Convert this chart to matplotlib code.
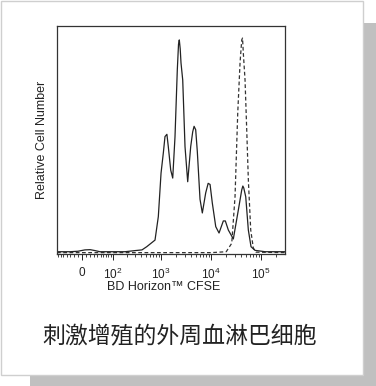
import matplotlib
matplotlib.use('Agg')
import matplotlib.pyplot as plt
from matplotlib.patches import Rectangle
from matplotlib.ticker import FixedLocator, FixedFormatter

plt.rcParams['font.family'] = ['Liberation Sans', 'DejaVu Sans']
plt.rcParams['mathtext.default'] = 'regular'

# stimulated cells (solid), CFSE intensity vs relative count (% of axis height)
stim_x = [-74, -30, -10, 7, 20, 33, 48, 87, 185, 300, 411, 512, 751, 875,
          992, 1102, 1190, 1300, 1386, 1550, 1700, 1888, 2099, 2220, 2302,
          2400, 2490, 2695, 2995, 3390, 3893, 4270, 4550, 4900, 5277, 5980,
          6650, 7770, 8700, 9500, 10530, 12340, 14360, 17500, 19200, 22050,
          27750, 34950, 40870, 43000, 44830, 49140, 55420, 62700, 75400,
          120000, 300000]
stim_y = [1.0, 1.0, 1.2, 1.8, 1.9, 1.5, 1.0, 1.0, 1.0, 1.5, 1.8, 3.2, 6.1,
          16.4, 35.5, 44.3, 51.5, 52.5, 47.1, 36.8, 33.3, 51.4, 80.7, 92.0,
          93.9, 90.0, 83.8, 76.3, 47.1, 31.7, 47.1, 53.6, 56.0, 54.5, 45.0,
          24.0, 18.0, 26.8, 31.0, 30.5, 22.4, 12.0, 9.2, 14.5, 14.5, 10.5,
          6.6, 19.3, 28.1, 29.8, 29.0, 25.1, 10.5, 3.2, 1.6, 1.0, 1.0]

# unstimulated control (dashed)
ctrl_x = [-74, 100, 1000, 10000, 20000, 25790, 30000, 33990, 37800, 40870,
          42400, 44000, 47600, 51440, 55420, 61840, 69700, 78900, 300000]
ctrl_y = [0.6, 0.6, 0.6, 0.6, 1.0, 4.7, 25.1, 61.8, 83.8, 93.9, 94.7, 88.0,
          76.3, 54.4, 32.5, 10.5, 2.6, 0.8, 0.6]

major_ticks = [0, 100, 1000, 10000, 100000]
major_labels = ['0', '10$^{2}$', '10$^{3}$', '10$^{4}$', '10$^{5}$']
minor_ticks = ([-70, -60, -50, -40, -30, -20, -10]
               + [m * 10 for m in range(1, 10)]
               + [m * 100 for m in range(2, 10)]
               + [m * 1000 for m in range(2, 10)]
               + [m * 10000 for m in range(2, 10)]
               + [200000])

fig = plt.figure(figsize=(3.76, 3.86), dpi=100)
fig.patch.set_facecolor('white')

# drop shadow + white panel
fig.patches.append(Rectangle((30 / 376, 0), 346 / 376, 363 / 386,
                             transform=fig.transFigure, facecolor='#c0c0c0',
                             edgecolor='none', zorder=-10))
fig.patches.append(Rectangle((0.5 / 376, 11 / 386), 362.5 / 376, 374.5 / 386,
                             transform=fig.transFigure, facecolor='white',
                             edgecolor='#cfcfcf', lw=1, zorder=-9))

ax = fig.add_axes([57 / 376, 132 / 386, 228 / 376, 228 / 386])
ax.set_xscale('asinh', linear_width=52)
ax.plot(ctrl_x, ctrl_y, color='#333333', lw=0.9, ls=(0, (3, 2)))
ax.plot(stim_x, stim_y, color='#222222', lw=0.9)
ax.set_xlim(-74, 300000)
ax.set_ylim(0, 100)

ax.xaxis.set_major_locator(FixedLocator(major_ticks))
ax.xaxis.set_major_formatter(FixedFormatter(major_labels))
ax.xaxis.set_minor_locator(FixedLocator(minor_ticks))
ax.tick_params(axis='x', which='major', length=4, width=0.7, direction='out',
               labelsize=8.5, pad=5, colors='#222222')
ax.tick_params(axis='x', which='minor', length=2.5, width=0.6, direction='out',
               colors='#222222')
ax.set_yticks([])
for s in ax.spines.values():
    s.set_linewidth(0.9)
    s.set_color('#333333')

ax.text(-0.066, 0.5, 'Relative Cell Number', rotation=90, ha='center',
        va='center', fontsize=9, transform=ax.transAxes, color='#222222')
fig.text(163.5 / 376, (386 - 287) / 386, 'BD Horizon\u2122 CFSE', ha='center',
         va='center', fontsize=9, color='#222222')
fig.text(180 / 376, (386 - 337) / 386, '刺激增殖的外周血淋巴细胞', ha='center',
         va='center', fontsize=16.5, color='#222222',
         family=['Noto Sans CJK SC', 'DejaVu Sans'])

fig.savefig('out.png', dpi=100)
